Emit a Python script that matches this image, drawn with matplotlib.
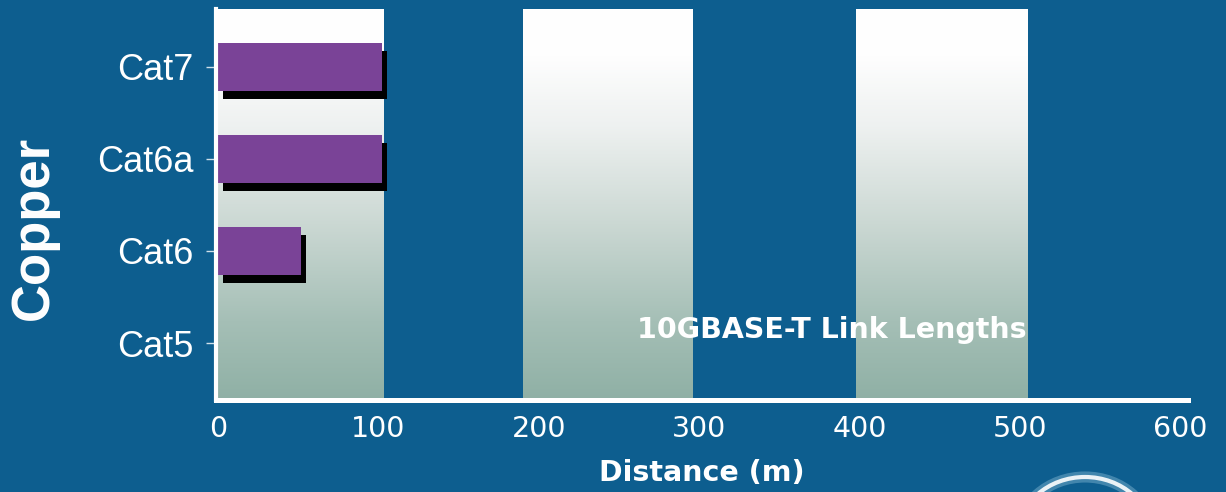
import matplotlib

matplotlib.use("Agg")
import matplotlib.pyplot as plt
import matplotlib.patheffects as pe
import numpy as np
from matplotlib.colors import LinearSegmentedColormap
from matplotlib.patches import Ellipse

BG = "#0d5e8f"
PURPLE = "#7a4397"

CABLES = ["Cat5", "Cat6", "Cat6a", "Cat7"]
LENGTHS_M = [0, 52, 102, 102]
XTICKS = [0, 100, 200, 300, 400, 500, 600]
# shaded columns behind the bars (start, end in metres)
BANDS = [(-3.7, 103), (190, 296), (398, 505)]

fig = plt.figure(figsize=(12.26, 4.92), dpi=100, facecolor=BG)
ax = fig.add_axes([216 / 1226, 1 - 399.5 / 492, 972 / 1226, 390.5 / 492])
ax.set_facecolor(BG)
ax.set_xlim(-1.25, 605)
ax.set_ylim(-0.614, 3.63)

# vertical white-to-sage gradient columns
cmap = LinearSegmentedColormap.from_list(
    "band", [(0, "#ffffff"), (0.12, "#fefefe"), (0.3, "#eef1f0"), (0.55, "#cbd8d3"), (0.8, "#a5bfb6"), (1, "#8fb0a5")]
)
grad = np.linspace(0, 1, 256).reshape(-1, 1)
y0, y1 = ax.get_ylim()
for lo, hi in BANDS:
    ax.imshow(grad, cmap=cmap, aspect="auto", extent=(lo, hi, y0, y1), origin="upper", zorder=0)

y = np.arange(len(CABLES))
bars = ax.barh(y, LENGTHS_M, height=0.52, color=PURPLE, zorder=3)
for bar in bars:
    if bar.get_width() > 0:
        bar.set_path_effects([pe.SimplePatchShadow(offset=(3.6, -5.8), shadow_rgbFace="black", alpha=1.0), pe.Normal()])

ax.set_yticks(y, CABLES, fontsize=26, family="Liberation Sans", color="white")
ax.set_xticks(XTICKS, [str(v) for v in XTICKS], fontsize=20.5, color="white")
ax.tick_params(axis="y", length=7.2, width=1, color="#cfe0ea", pad=9)
ax.tick_params(axis="x", length=0, pad=11)

for side in ("top", "right"):
    ax.spines[side].set_visible(False)
for side in ("left", "bottom"):
    ax.spines[side].set_color("white")
    ax.spines[side].set_linewidth(3.6)
    ax.spines[side].set_zorder(4)
ax.spines["left"].set_linewidth(3.0)

ax.text(383, 0.14, "10GBASE-T Link Lengths", fontsize=20.5, fontweight="bold", color="white",
        ha="center", va="center", zorder=5)
ax.set_xlabel("Distance (m)", fontsize=20.5, fontweight="bold", color="white", labelpad=12)

fig.text(34 / 1226, 1 - 228 / 492, "Copper", rotation=90, fontsize=38, fontweight="bold",
         family="Liberation Sans", color="white", ha="center", va="center")

# logo ring peeking in at the bottom edge
ring = Ellipse((1085, -45), 135, 120, transform=None, fill=False, edgecolor="white", linewidth=3, alpha=0.9)
glow = Ellipse((1085, -45), 135, 120, transform=None, fill=False, edgecolor="#bfe3f5", linewidth=8, alpha=0.3)
fig.patches.extend([glow, ring])

fig.savefig("out.png", dpi=100, facecolor=BG)
